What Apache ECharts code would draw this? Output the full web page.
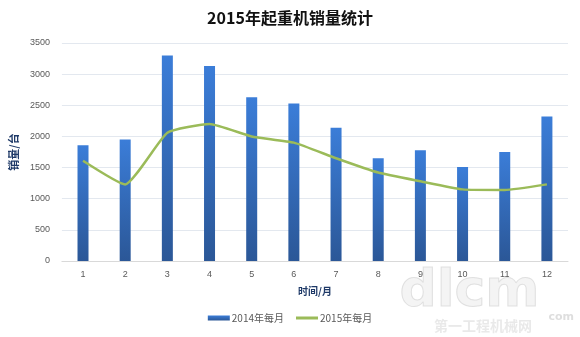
<!DOCTYPE html>
<html>
<head>
<meta charset="utf-8">
<script src="https://cdn.jsdelivr.net/npm/echarts@6/dist/echarts.min.js"></script>
<style>
  html, body { margin: 0; padding: 0; background: #ffffff; }
  #chart { width: 580px; height: 337px; }
</style>
</head>
<body>
<div id="chart"></div>
<script>
// Months on the category axis
const months = ['1', '2', '3', '4', '5', '6', '7', '8', '9', '10', '11', '12'];
// Monthly crane sales, 2014 (bars)
const sales2014 = [1860, 1950, 3300, 3130, 2630, 2530, 2140, 1650, 1780, 1510, 1750, 2320];
// Monthly crane sales, 2015 (line)
const sales2015 = [1610, 1230, 2060, 2200, 2000, 1900, 1650, 1420, 1280, 1150, 1140, 1230];
const seriesNames = ['2014年每月', '2015年每月'];

const chart = echarts.init(document.getElementById('chart'), null, { renderer: 'canvas' });

chart.setOption({
  animation: false,
  backgroundColor: '#ffffff',
  title: {
    text: '2015年起重机销量统计',
    left: 'center',
    top: 5,
    textStyle: {
      fontFamily: 'Noto Sans CJK SC',
      fontWeight: 'bold',
      fontSize: 16,
      color: '#111111'
    }
  },
  legend: {
    bottom: 9,
    left: 'center',
    itemWidth: 22,
    itemGap: 12,
    itemHeight: 5,
    data: [
      { name: seriesNames[0], icon: 'rect' },
      { name: seriesNames[1], icon: 'path://M0,1 L22,1 L22,4 L0,4 Z', itemStyle: { color: '#9bbb59' } }
    ],
    textStyle: { fontFamily: 'Noto Sans CJK SC', fontSize: 10, color: '#595959', padding: [0, 0, 0, -3] }
  },
  grid: { left: 59, right: 12, top: 43, bottom: 76, containLabel: false },
  xAxis: {
    type: 'category',
    data: months,
    name: '时间/月',
    nameLocation: 'middle',
    nameGap: 25,
    nameTextStyle: { fontFamily: 'Noto Sans CJK SC', fontWeight: 'bold', fontSize: 10, color: '#1f3a68' },
    axisLine: { lineStyle: { color: '#d9d9d9' } },
    axisTick: { show: false },
    axisLabel: { fontFamily: 'Liberation Sans', fontSize: 9, color: '#595959', margin: 9 }
  },
  yAxis: {
    type: 'value',
    min: 0,
    max: 3500,
    interval: 500,
    name: '销量/台',
    nameLocation: 'middle',
    nameGap: 32,
    nameRotate: 90,
    nameTextStyle: { fontFamily: 'Noto Sans CJK SC', fontWeight: 'bold', fontSize: 11, color: '#1f3a68' },
    axisLine: { show: false },
    axisTick: { show: false },
    axisLabel: {
      fontFamily: 'Liberation Sans', fontSize: 9, color: '#595959', margin: 12,
      formatter: function (v) { return String(v); }
    },
    splitLine: { lineStyle: { color: '#e3e8ef', width: 1 } }
  },
  series: [
    {
      name: seriesNames[0],
      type: 'bar',
      data: sales2014,
      barWidth: 11,
      itemStyle: {
        color: new echarts.graphic.LinearGradient(0, 0, 0, 1, [
          { offset: 0, color: '#3b7dd8' },
          { offset: 1, color: '#2b5797' }
        ])
      }
    },
    {
      name: seriesNames[1],
      type: 'line',
      data: sales2015,
      smooth: 0.15,
      symbol: 'none',
      lineStyle: { color: '#9bbb59', width: 2.5 },
      itemStyle: { color: '#9bbb59' },
      z: 5
    }
  ],
  graphic: [
    {
      type: 'text',
      right: 40,
      bottom: 18,
      silent: true,
      style: {
        text: 'dlcm',
        font: 'bold 52px "DejaVu Sans"',
        fill: 'rgba(210,210,210,0.25)',
        stroke: 'rgba(200,200,200,0.5)',
        lineWidth: 1
      }
    },
    {
      type: 'text',
      right: 48,
      bottom: 4,
      silent: true,
      style: {
        text: '第一工程机械网',
        font: 'bold 14px "Noto Sans CJK SC"',
        fill: 'rgba(200,200,200,0.4)'
      }
    },
    {
      type: 'text',
      right: 6,
      bottom: 14,
      silent: true,
      style: {
        text: 'com',
        font: 'bold 11px "DejaVu Sans"',
        fill: 'rgba(190,190,190,0.5)'
      }
    }
  ]
});
</script>
</body>
</html>
